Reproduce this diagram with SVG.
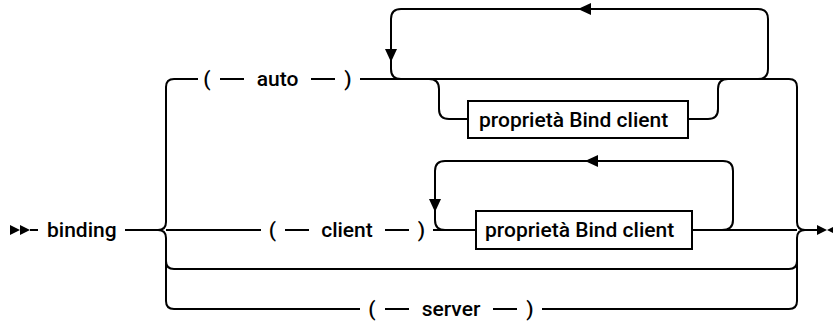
<svg xmlns="http://www.w3.org/2000/svg" width="833" height="322" viewBox="0 0 833 322">
<style>
.ln{fill:none;stroke:#000;stroke-width:2}
.t{font-family:Roboto,"Liberation Sans",Arial,sans-serif;font-weight:500;font-size:21px;fill:#000}
.m{text-anchor:middle}
.box{fill:#fff;stroke:#000;stroke-width:2}
.ah{fill:#000}
</style>
<rect width="833" height="322" fill="#fff"/>
<g id="connectors">
<path class="ln" d="M30,230 H38 M125,230 H158 Q166,230 166,222 V87 Q166,79 174,79 M158,230 Q166,230 166,238 V301 Q166,309 174,309"/>
<path class="ln" d="M166,261 Q166,269 174,269 H789 Q797,269 797,261"/>
<path class="ln" d="M797,87 V222 Q797,230 805,230 M797,301 V238 Q797,230 805,230 H817"/>
<path class="ln" d="M174,79 H198 M220,79 H244 M311,79 H335 M360,79 H789 Q797,79 797,87"/>
<path class="ln" d="M758,79 Q768,79 768,69 V19 Q768,9 758,9 H401 Q391,9 391,19 V69 Q391,79 401,79"/>
<path class="ln" d="M429,79 Q439,79 439,89 V109 Q439,119 449,119 H468 M688,119 H708 Q718,119 718,109 V89 Q718,79 728,79"/>
<path class="ln" d="M166,230 H261 M285,230 H309 M385,230 H409 M433,230 H476 M692,230 H797"/>
<path class="ln" d="M722,230 Q733,230 733,220 V171 Q733,161 723,161 H445 Q435,161 435,171 V220 Q435,230 445,230"/>
<path class="ln" d="M174,309 H360 M385,309 H409 M493,309 H517 M542,309 H789 Q797,309 797,301"/>
<polygon class="ah" points="578,9 591,3 591,15"/>
<polygon class="ah" points="385,49 397,49 391,62"/>
<polygon class="ah" points="585,161 598,155 598,167"/>
<polygon class="ah" points="429,199 441,199 435,212"/>
<polygon class="ah" points="10,225 20,230 10,235"/>
<polygon class="ah" points="20,225 30,230 20,235"/>
<polygon class="ah" points="817,225 827,230 817,235"/>
<polygon class="ah" points="837,225 827,230 837,235"/>
</g>
<g id="start">
<text class="t" x="47" y="237">binding</text>
</g>
<g id="auto">
<text class="t m" x="207" y="86">(</text>
<text class="t m" x="277.5" y="86">auto</text>
<text class="t m" x="348" y="86">)</text>
</g>
<g id="auto-bind">
<rect class="box" x="468" y="101" width="220" height="37"/>
<text class="t" x="479" y="127">proprietà Bind client</text>
</g>
<g id="client">
<text class="t m" x="272.5" y="237">(</text>
<text class="t m" x="347" y="237">client</text>
<text class="t m" x="421.5" y="237">)</text>
</g>
<g id="client-bind">
<rect class="box" x="476" y="211" width="216" height="38"/>
<text class="t" x="485" y="237">proprietà Bind client</text>
</g>
<g id="server">
<text class="t m" x="372" y="316">(</text>
<text class="t m" x="451" y="316">server</text>
<text class="t m" x="530" y="316">)</text>
</g>
</svg>
